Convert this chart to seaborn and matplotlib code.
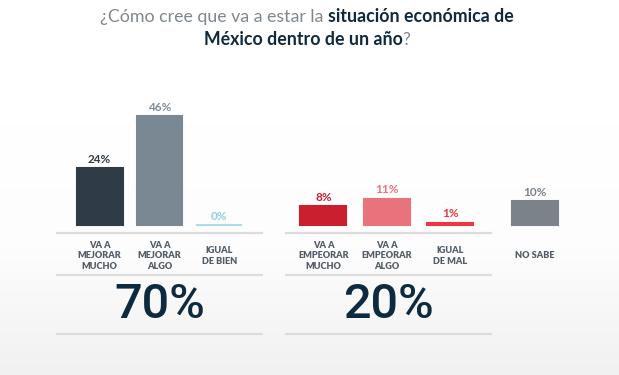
"""Situación económica de México dentro de un año — barras por respuesta."""

import matplotlib.pyplot as plt
import numpy as np
import seaborn as sns
from matplotlib.colors import LinearSegmentedColormap
from matplotlib.lines import Line2D

# ---------------------------------------------------------------------------
# Data
# ---------------------------------------------------------------------------
MEJOR_CATS = ["VA A\nMEJORAR\nMUCHO", "VA A\nMEJORAR\nALGO", "IGUAL\nDE BIEN"]
MEJOR_VALS = [24, 46, 0]
PEOR_CATS = ["VA A\nEMPEORAR\nMUCHO", "VA A\nEMPEORAR\nALGO", "IGUAL\nDE MAL"]
PEOR_VALS = [8, 11, 1]
NS_CATS = ["NO SABE"]
NS_VALS = [10]
TOTALS = ["70%", "20%"]

TITLE_L1 = [("¿Cómo cree que va a estar la", "normal", "#7f878d"),
            ("situación económica de", "bold", "#0f2a3d")]
TITLE_L2 = [("México dentro de un año", "bold", "#0f2a3d"),
            ("?", "normal", "#7f878d")]

# styles
MEJOR_COLORS = ["#2f3b46", "#7a8894", "#a8dce7"]
MEJOR_TEXT = ["#2f3b46", "#808b96", "#8fd0dc"]
PEOR_COLORS = ["#c91f2f", "#e9737d", "#ee3542"]
PEOR_TEXT = ["#c91f2f", "#e9737d", "#e8343f"]
NS_COLORS = ["#7b8289"]
NS_TEXT = ["#7b8289"]
NAVY = "#0d2a3f"
LINE_GRAY = "#dcdcdc"

sns.set_theme(style="white")
plt.rcParams["font.family"] = ["Lato", "DejaVu Sans"]

W, H = 619, 375
fig = plt.figure(figsize=(W / 100, H / 100), dpi=100)

# soft background gradient (white -> light gray toward the bottom)
bg = fig.add_axes([0, 0, 1, 1], zorder=-10)
grad = np.linspace(0, 1, 256)[:, None]
cmap = LinearSegmentedColormap.from_list("bg", ["#f1f1f1", "#fdfdfd", "#ffffff", "#ffffff"])
bg.imshow(grad, aspect="auto", cmap=cmap, origin="lower", extent=[0, 1, 0, 1])
bg.set_axis_off()

AX_BOTTOM = 233   # px from top (axis line)
AX_TOP = 95
PX_PER_PCT = 2.37
YMIN = -(AX_BOTTOM - 225) / PX_PER_PCT
YMAX = YMIN + (AX_BOTTOM - AX_TOP) / PX_PER_PCT


def fig_rect(x0, x1):
    return [x0 / W, (H - AX_BOTTOM) / H, (x1 - x0) / W, (AX_BOTTOM - AX_TOP) / H]


def draw_group(ax, cats, vals, colors, text_colors, width, xlim, spine=True):
    sns.barplot(x=cats, y=vals, hue=cats, order=cats, hue_order=cats,
                palette=colors, legend=False, width=width, ax=ax,
                saturation=1)
    for patch in ax.patches:
        patch.set_edgecolor(patch.get_facecolor())
        patch.set_linewidth(1.5)
    for cont, tc in zip(ax.containers, text_colors):
        ax.bar_label(cont, fmt="%d%%", padding=2.5, fontsize=8.5,
                     fontweight="bold", color=tc)
    ax.set_xlim(*xlim)
    ax.set_ylim(YMIN, YMAX)
    ax.set_yticks([])
    ax.set_xlabel("")
    ax.set_ylabel("")
    ax.set_facecolor("none")
    ax.tick_params(axis="x", length=0, pad=16.5, labelsize=6.6,
                   labelcolor="#525d68")
    for lbl in ax.get_xticklabels():
        lbl.set_verticalalignment("center")
        lbl.set_fontweight("heavy")
        lbl.set_linespacing(1.25)
    sns.despine(ax=ax, left=True, bottom=not spine)
    ax.spines["bottom"].set_color(LINE_GRAY)
    ax.spines["bottom"].set_linewidth(1.6)


ax1 = fig.add_axes(fig_rect(57, 262))
draw_group(ax1, MEJOR_CATS, MEJOR_VALS, MEJOR_COLORS, MEJOR_TEXT,
           width=46 / 60, xlim=(-0.71, 2.71))
ax2 = fig.add_axes(fig_rect(286, 491))
draw_group(ax2, PEOR_CATS, PEOR_VALS, PEOR_COLORS, PEOR_TEXT,
           width=46 / 63.5, xlim=(-0.59, 2.64))
ax3 = fig.add_axes(fig_rect(505, 565))
draw_group(ax3, NS_CATS, NS_VALS, NS_COLORS, NS_TEXT,
           width=46 / 60, xlim=(-0.5, 0.5), spine=False)

# totals block: separator lines + big numbers
for (x0, x1), total in zip([(57, 262), (286, 491)], TOTALS):
    for ypx in (275, 334):
        fig.add_artist(Line2D([x0 / W, x1 / W], [(H - ypx) / H] * 2,
                              color=LINE_GRAY, linewidth=1.6))
    fig.text((x0 + x1) / 2 / W, (H - 305) / H, total, ha="center",
             va="center", fontsize=35, fontweight="medium", color=NAVY,
             family=["Roboto", "DejaVu Sans"])

# two-line mixed-weight title, centred
renderer = fig.canvas.get_renderer()


def rich_line(parts, base_px, size=12.8):
    texts = []
    for s, weight, color in parts:
        texts.append(fig.text(0, (H - base_px) / H, s, fontsize=size,
                              fontweight=weight, color=color,
                              ha="left", va="baseline"))
    probe = fig.text(0, 0, "x x", fontsize=size)
    probe2 = fig.text(0, 0, "xx", fontsize=size)
    gap = probe.get_window_extent(renderer).width - probe2.get_window_extent(renderer).width
    probe.remove()
    probe2.remove()
    widths = [t.get_window_extent(renderer).width for t in texts]
    gaps = [gap if (i + 1 < len(parts) and parts[i + 1][0] not in "?") else 0
            for i in range(len(parts))]
    total = sum(widths) + sum(gaps)
    x = 307 - total / 2
    for t, w, g in zip(texts, widths, gaps):
        t.set_x(x / W)
        x += w + g


rich_line(TITLE_L1, 22)
rich_line(TITLE_L2, 45)

fig.savefig("out.png", dpi=100)
